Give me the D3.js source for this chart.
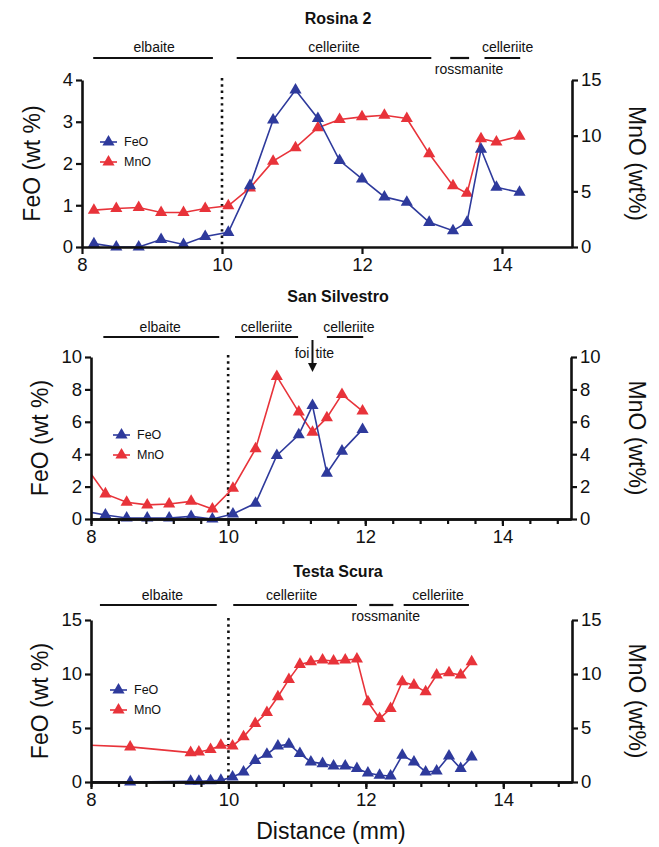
<!DOCTYPE html>
<html><head><meta charset="utf-8">
<script src="https://cdn.jsdelivr.net/npm/d3@7"></script>
<style>
body{margin:0;background:#fff}
text{font-family:"Liberation Sans",Arial,Helvetica,sans-serif;fill:#111}
</style>
</head><body>
<svg id="chart" width="659" height="847"></svg>
<script>
// ---------- data ----------
const xTicks = [8, 10, 12, 14];
const seriesNames = ["FeO", "MnO"];

const rosinaX   = [8.17,8.49,8.81,9.13,9.45,9.76,10.09,10.40,10.73,11.05,11.37,11.68,12.00,12.32,12.64,12.96,13.30,13.50,13.70,13.92,14.25];
const rosinaFeO = [0.08,0.00,0.00,0.18,0.06,0.25,0.35,1.47,3.04,3.76,3.08,2.07,1.63,1.20,1.07,0.59,0.39,0.59,2.34,1.43,1.31];
const rosinaMnO = [3.31,3.46,3.55,3.10,3.10,3.46,3.70,5.30,7.71,8.92,10.72,11.45,11.69,11.84,11.54,8.37,5.51,4.82,9.73,9.43,9.94];

const silvX   = [7.90,8.21,8.52,8.82,9.14,9.46,9.77,10.07,10.40,10.71,11.03,11.23,11.44,11.66,11.96];
const silvFeO = [0.49,0.25,0.06,0.06,0.06,0.16,0.00,0.31,0.97,3.92,5.20,7.00,2.82,4.19,5.53];
const silvMnO = [3.37,1.55,1.03,0.87,0.93,1.09,0.62,1.90,4.33,8.80,6.60,5.36,6.25,7.69,6.66];

const testaX   = [7.90,8.57,9.45,9.57,9.74,9.89,10.06,10.22,10.39,10.56,10.72,10.88,11.04,11.20,11.37,11.53,11.70,11.87,12.03,12.20,12.36,12.53,12.70,12.87,13.03,13.21,13.38,13.54];
const testaFeO = [0.00,0.00,0.06,0.06,0.12,0.15,0.46,0.93,2.00,2.57,3.34,3.50,2.63,1.86,1.70,1.48,1.48,1.24,0.84,0.62,0.56,2.47,1.86,0.93,1.02,2.41,1.24,2.32];
const testaMnO = [3.43,3.25,2.72,2.78,3.00,3.40,3.34,4.18,5.41,6.43,7.89,9.50,10.89,11.13,11.29,11.20,11.29,11.38,7.42,5.88,6.80,9.28,8.97,8.35,9.90,10.11,9.90,11.13];

// phase annotations (mm): [label, label centre, bar start, bar end, label below bar?]
const rosinaPhases = [["elbaite",9.03,8.16,9.87,false],["celleriite",11.6,10.21,12.99,false],["rossmanite",13.53,13.26,13.53,true],["celleriite",14.08,13.75,14.26,false]];
const silvPhases   = [["elbaite",9.01,8.18,9.87,false],["celleriite",10.56,10.10,11.02,false],["celleriite",11.76,11.44,11.97,false]];
const testaPhases  = [["elbaite",9.04,8.13,9.83,false],["celleriite",10.92,10.07,11.87,false],["rossmanite",12.29,12.05,12.40,true],["celleriite",13.05,12.55,13.50,false]];

// ---------- layout ----------
const BLUE = "#2e3a9c", RED = "#e8333a";
const svg = d3.select("#chart");

const panels = [
  {title:"Rosina 2", xs:rosinaX, fe:rosinaFeO, mn:rosinaMnO, phases:rosinaPhases,
   lDom:[0,4], lTicks:[0,1,2,3,4], rDom:[0,15], rTicks:[0,5,10,15],
   x0:82, x1:572, yTop:80, yBot:247, titleY:24, phaseY:52, barY:58, belowY:74,
   minor:false, legX:100, legY:142, ylabX:32, showXLabel:false},
  {title:"San Silvestro", xs:silvX, fe:silvFeO, mn:silvMnO, phases:silvPhases,
   lDom:[0,10], lTicks:[0,2,4,6,8,10], rDom:[0,10], rTicks:[0,2,4,6,8,10],
   x0:91, x1:571, yTop:357, yBot:519, titleY:302, phaseY:332, barY:337, belowY:358,
   minor:true, legX:113, legY:435, ylabX:40, foitite:11.23, showXLabel:false},
  {title:"Testa Scura", xs:testaX, fe:testaFeO, mn:testaMnO, phases:testaPhases,
   lDom:[0,15], lTicks:[0,5,10,15], rDom:[0,15], rTicks:[0,5,10,15],
   x0:91, x1:572, yTop:620, yBot:782, titleY:577, phaseY:600, barY:605, belowY:621,
   minor:true, legX:110, legY:690, ylabX:40, showXLabel:true}
];

const tri = d3.symbol().type(d3.symbolTriangle).size(64);

panels.forEach((p, i) => {
  const g = svg.append("g");
  const x = d3.scaleLinear().domain([8,15]).range([p.x0, p.x1]);
  const yL = d3.scaleLinear().domain(p.lDom).range([p.yBot, p.yTop]);
  const yR = d3.scaleLinear().domain(p.rDom).range([p.yBot, p.yTop]);

  // title
  g.append("text").attr("x", 338).attr("y", p.titleY).attr("text-anchor","middle")
    .attr("font-size", 16).attr("font-weight","bold").text(p.title);

  // phase bars
  p.phases.forEach(ph => {
    g.append("line").attr("x1", x(ph[2])).attr("x2", x(ph[3]))
      .attr("y1", p.barY).attr("y2", p.barY).attr("stroke","#111").attr("stroke-width",2.2);
    g.append("text").attr("x", x(ph[1])).attr("y", ph[4] ? p.belowY : p.phaseY)
      .attr("text-anchor","middle").attr("font-size",14).text(ph[0]);
  });
  if (p.foitite) {
    const ax = x(p.foitite);
    g.append("text").attr("x", ax - 3).attr("y", p.belowY).attr("text-anchor","end").attr("font-size",14).text("foi");
    g.append("text").attr("x", ax + 3).attr("y", p.belowY).attr("text-anchor","start").attr("font-size",14).text("tite");
    g.append("line").attr("x1",ax).attr("x2",ax).attr("y1",p.barY+3).attr("y2",p.yTop+8)
      .attr("stroke","#111").attr("stroke-width",2);
    g.append("path").attr("d", `M${ax-4.5},${p.yTop+6}L${ax+4.5},${p.yTop+6}L${ax},${p.yTop+15}Z`).attr("fill","#111");
  }

  // dotted boundary at 10 mm
  g.append("line").attr("x1", x(10)).attr("x2", x(10)).attr("y1", p.yTop - 2).attr("y2", p.yBot)
    .attr("stroke","#111").attr("stroke-width",2.6).attr("stroke-dasharray","2.4,3.9");

  // clip
  const cid = "clip"+i;
  svg.append("clipPath").attr("id", cid).append("rect")
    .attr("x", p.x0).attr("y", p.yTop - 10).attr("width", p.x1 - p.x0).attr("height", p.yBot - p.yTop + 16);
  const plot = g.append("g").attr("clip-path", `url(#${cid})`);

  const feData = p.xs.map((d,k)=>[d, p.fe[k]]);
  const mnData = p.xs.map((d,k)=>[d, p.mn[k]]);
  const line = (ys) => d3.line().x(d=>x(d[0])).y(d=>ys(d[1]));

  plot.append("path").datum(mnData).attr("d", line(yR)).attr("fill","none").attr("stroke",RED).attr("stroke-width",1.6);
  plot.selectAll(".mn").data(mnData).join("path").attr("d",tri)
    .attr("transform", d=>`translate(${x(d[0])},${yR(d[1])})`).attr("fill",RED);
  plot.append("path").datum(feData).attr("d", line(yL)).attr("fill","none").attr("stroke",BLUE).attr("stroke-width",1.6);
  plot.selectAll(".fe").data(feData).join("path").attr("d",tri)
    .attr("transform", d=>`translate(${x(d[0])},${yL(d[1])})`).attr("fill",BLUE);

  // axes
  const styleAxis = sel => {
    sel.select(".domain").attr("stroke","#111").attr("stroke-width",2.6);
    sel.selectAll(".tick line").attr("stroke","#111").attr("stroke-width",2.2);
    sel.selectAll(".tick text").attr("font-size",18.5).attr("fill","#111")
      .attr("font-family","Liberation Sans, Arial, sans-serif");
  };
  if (p.minor) {
    g.append("g").attr("transform",`translate(0,${p.yBot})`)
      .call(d3.axisBottom(x).tickValues(d3.range(8, 15, 0.4)).tickSize(5).tickSizeOuter(0).tickFormat(""))
      .call(styleAxis);
  }
  g.append("g").attr("transform",`translate(0,${p.yBot})`)
    .call(d3.axisBottom(x).tickValues(xTicks).tickSize(7).tickSizeOuter(0).tickPadding(4).tickFormat(d3.format("d")))
    .call(styleAxis);
  g.append("g").attr("transform",`translate(${p.x0},0)`)
    .call(d3.axisLeft(yL).tickValues(p.lTicks).tickSize(6).tickSizeOuter(0).tickPadding(3).tickFormat(d3.format("d")))
    .call(styleAxis);
  g.append("g").attr("transform",`translate(${p.x1},0)`)
    .call(d3.axisRight(yR).tickValues(p.rTicks).tickSize(6).tickSizeOuter(0).tickPadding(3).tickFormat(d3.format("d")))
    .call(styleAxis);

  // axis titles
  const midY = (p.yTop + p.yBot)/2;
  g.append("text").attr("transform",`translate(${p.ylabX},${midY}) rotate(-90)`)
    .attr("text-anchor","middle").attr("dominant-baseline","central").attr("font-size",23).text("FeO (wt %)");
  g.append("text").attr("transform",`translate(637,${midY}) rotate(90)`)
    .attr("text-anchor","middle").attr("dominant-baseline","central").attr("font-size",23).text("MnO (wt%)");

  // legend
  [[BLUE, seriesNames[0], 0],[RED, seriesNames[1], 20]].forEach(([c, name, dy]) => {
    g.append("line").attr("x1", p.legX).attr("x2", p.legX + 17).attr("y1", p.legY+dy).attr("y2", p.legY+dy)
      .attr("stroke", c).attr("stroke-width",1.6);
    g.append("path").attr("d", tri).attr("transform",`translate(${p.legX+8.5},${p.legY+dy})`).attr("fill", c);
    g.append("text").attr("x", p.legX + 24).attr("y", p.legY + dy).attr("dominant-baseline","central")
      .attr("font-size",12.5).text(name);
  });

  if (p.showXLabel) {
    g.append("text").attr("x", 331).attr("y", 839).attr("text-anchor","middle")
      .attr("font-size",23).text("Distance (mm)");
  }
});
</script>
</body></html>
